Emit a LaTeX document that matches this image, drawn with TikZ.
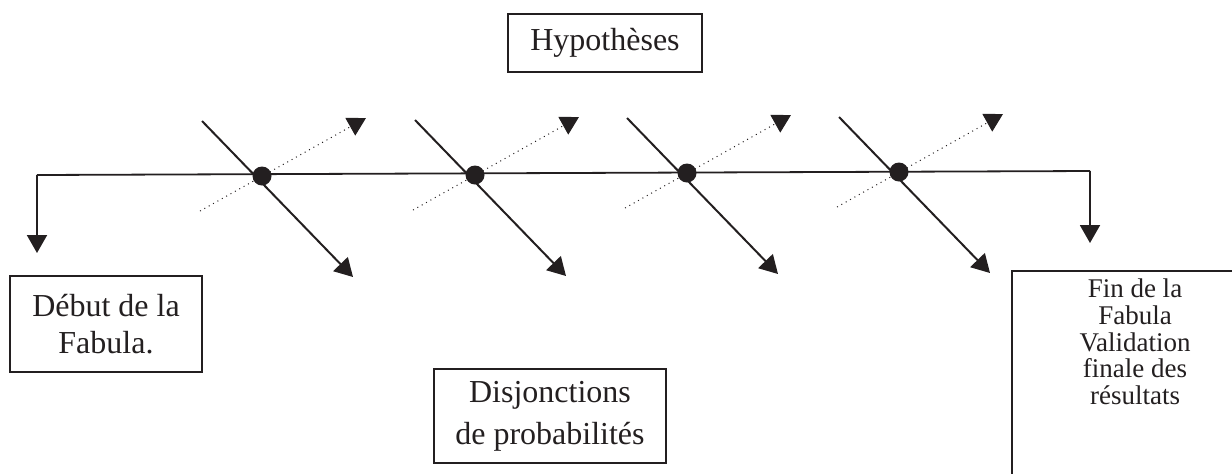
\documentclass[tikz,border=0pt]{standalone}
\usepackage{fontspec}
\setmainfont{Liberation Serif}
\usetikzlibrary{arrows.meta,positioning}
\definecolor{inkgray}{HTML}{231F20}
\tikzset{
  axis/.style={line width=0.9pt, draw=inkgray},
  drop/.style={-{Triangle[length=9pt,width=10pt]}, line width=1pt, draw=inkgray},
  branch/.style={-{Triangle[length=9pt,width=10pt]}, line width=1pt, draw=inkgray},
  hint/.style={-{Triangle[length=9pt,width=10pt]}, line width=0.5pt, dotted, draw=inkgray},
  junction/.style={circle, fill=inkgray, inner sep=0pt, minimum size=9.5pt},
  box/.style={draw=inkgray, line width=0.75pt, align=center, text=inkgray,
              inner sep=4pt, font=\fontsize{16}{18.5}\selectfont}
}

\begin{document}
\begin{tikzpicture}[x=0.5pt, y=-0.5pt]
  \useasboundingbox (0,0) rectangle (1232,473);
  \clip (0,0) rectangle (1232,473);

  % text boxes
  \node[box, minimum width=97pt, minimum height=29pt] (hyp) at (605,43) {Hypoth\`eses};
  \node[box, minimum width=96pt, minimum height=48pt] (debut) at (106,324) {D\'ebut de la\\Fabula.};
  \node[box, minimum width=116pt, minimum height=47pt, font=\fontsize{16}{21}\selectfont] (disj) at (550,416) {Disjonctions\\de probabilit\'es};
  \node[box, anchor=north, minimum width=123pt, text depth=150pt, font=\fontsize{13.5}{13.4}\selectfont] (fin) at (1135,270) {Fin de la\\Fabula\\Validation\\finale des\\r\'esultats};

  % main line and its ends
  \coordinate (lstart) at (37,175);
  \coordinate (ltip) at (37,253);
  \coordinate (rend) at (1090,171);
  \coordinate (rtip) at (1090,243);

  % branch end points
  \coordinate (a1) at (202,121); \coordinate (b1) at (353,277);
  \coordinate (c1) at (200,211); \coordinate (d1) at (366,118);
  \coordinate (a2) at (415,120); \coordinate (b2) at (566,276);
  \coordinate (c2) at (413,210); \coordinate (d2) at (579,117);
  \coordinate (a3) at (627,118); \coordinate (b3) at (778,274);
  \coordinate (c3) at (625,208); \coordinate (d3) at (791,115);
  \coordinate (a4) at (839,117); \coordinate (b4) at (990,273);
  \coordinate (c4) at (837,207); \coordinate (d4) at (1003,114);

  \draw[axis] (lstart) -- (rend);
  \draw[drop] (lstart) -- (ltip);
  \draw[drop] (rend) -- (rtip);

  \draw[branch] (a1) -- (b1);
  \draw[branch] (a2) -- (b2);
  \draw[branch] (a3) -- (b3);
  \draw[branch] (a4) -- (b4);
  \draw[hint] (c1) -- (d1);
  \draw[hint] (c2) -- (d2);
  \draw[hint] (c3) -- (d3);
  \draw[hint] (c4) -- (d4);

  \node[junction] (j1) at (262,176) {};
  \node[junction] (j2) at (475,175) {};
  \node[junction] (j3) at (687,173) {};
  \node[junction] (j4) at (899,172) {};
\end{tikzpicture}
\end{document}
